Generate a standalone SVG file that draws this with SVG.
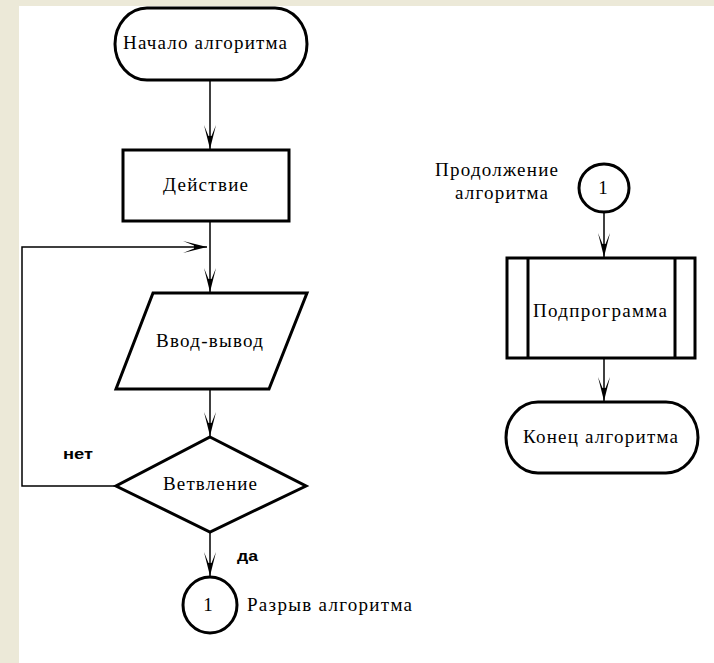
<svg xmlns="http://www.w3.org/2000/svg" width="714" height="663" viewBox="0 0 714 663">
<style>
.shape{fill:#fff;stroke:#000;stroke-width:3;stroke-linejoin:miter}
.conn{fill:none;stroke:#000;stroke-width:1.5}
.t{font-family:"Liberation Serif","Times New Roman",serif;font-size:19px;fill:#000}
.s{font-family:"Liberation Sans",Arial,sans-serif;font-size:15px;font-weight:bold;fill:#000}
</style>
<defs>
<marker id="arr" markerUnits="userSpaceOnUse" orient="auto" refX="0" refY="0" markerWidth="30" markerHeight="14" overflow="visible">
<path d="M0,0 L-24,-6 L-13,-1.5 L-13,1.5 L-24,6 Z" fill="#000"/>
</marker>
</defs>
<rect x="0" y="0" width="714" height="663" fill="#ECE9D8"/>
<rect x="19" y="6" width="695" height="657" fill="#FFFFFF"/>
<g id="connectors">
<line class="conn" x1="210" y1="80" x2="210" y2="149" marker-end="url(#arr)"/>
<line class="conn" x1="210" y1="221" x2="210" y2="292" marker-end="url(#arr)"/>
<polyline class="conn" points="116,486 22,486 22,247 207,247" marker-end="url(#arr)"/>
<line class="conn" x1="210" y1="389" x2="210" y2="436" marker-end="url(#arr)"/>
<line class="conn" x1="210" y1="532" x2="210" y2="576" marker-end="url(#arr)"/>
<line class="conn" x1="604" y1="213" x2="604" y2="257" marker-end="url(#arr)"/>
<line class="conn" x1="604" y1="358" x2="604" y2="401" marker-end="url(#arr)"/>
</g>
<g id="start">
<rect class="shape" x="115" y="8" width="192" height="72" rx="32" ry="36"/>
<text class="t" x="205" y="49" text-anchor="middle" textLength="164" lengthAdjust="spacing">Начало алгоритма</text>
</g>
<g id="action">
<rect class="shape" x="123" y="150" width="166" height="71"/>
<text class="t" x="205.5" y="191" text-anchor="middle" textLength="85" lengthAdjust="spacing">Действие</text>
</g>
<g id="io">
<polygon class="shape" points="153,293 307,293 269,389 116,389"/>
<text class="t" x="209.5" y="347" text-anchor="middle" textLength="107" lengthAdjust="spacing">Ввод-вывод</text>
</g>
<g id="branch">
<polygon class="shape" points="210,437 306,486 210,532 116,486"/>
<text class="t" x="210" y="490" text-anchor="middle" textLength="94" lengthAdjust="spacing">Ветвление</text>
</g>
<g id="labels">
<text class="s" x="63" y="459" textLength="30" lengthAdjust="spacingAndGlyphs">нет</text>
<text class="s" x="237" y="561" textLength="21" lengthAdjust="spacingAndGlyphs">да</text>
</g>
<g id="break">
<ellipse class="shape" cx="210" cy="605" rx="27" ry="28"/>
<text class="t" x="208" y="611" text-anchor="middle" font-size="17">1</text>
<text class="t" x="247" y="611" textLength="165" lengthAdjust="spacing">Разрыв алгоритма</text>
</g>
<g id="continue">
<ellipse class="shape" cx="604" cy="188" rx="25" ry="24"/>
<text class="t" x="603" y="194" text-anchor="middle" font-size="17">1</text>
<text class="t" x="496.5" y="176" text-anchor="middle" textLength="123" lengthAdjust="spacing">Продолжение</text>
<text class="t" x="501.5" y="199" text-anchor="middle" textLength="93" lengthAdjust="spacing">алгоритма</text>
</g>
<g id="subroutine">
<rect class="shape" x="507" y="258" width="188" height="100"/>
<line class="shape" x1="528" y1="258" x2="528" y2="358"/>
<line class="shape" x1="675" y1="258" x2="675" y2="358"/>
<text class="t" x="600" y="317" text-anchor="middle" textLength="134" lengthAdjust="spacing">Подпрограмма</text>
</g>
<g id="end">
<rect class="shape" x="506" y="402" width="192" height="71" rx="32" ry="35.5"/>
<text class="t" x="600.5" y="443" text-anchor="middle" textLength="155" lengthAdjust="spacing">Конец алгоритма</text>
</g>
</svg>
